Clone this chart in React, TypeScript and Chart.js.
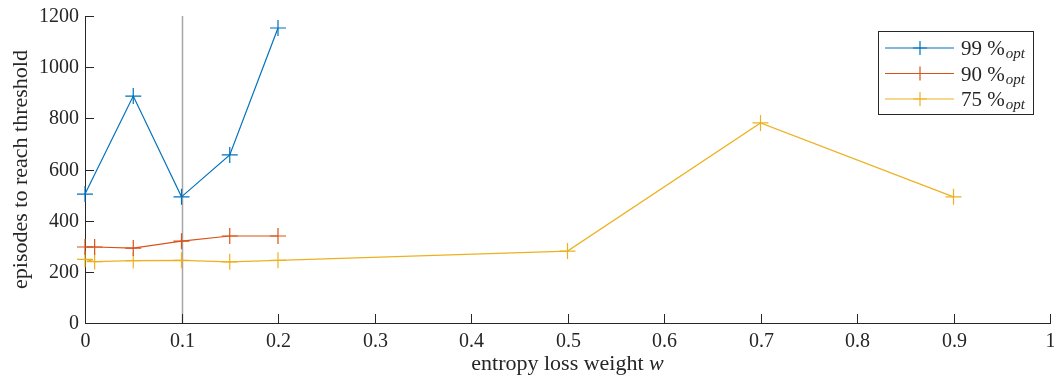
import React, { useEffect, useRef } from "react";
import { Chart, registerables } from "chart.js";

Chart.register(...registerables);

const xTicks = [0, 0.1, 0.2, 0.3, 0.4, 0.5, 0.6, 0.7, 0.8, 0.9, 1];
const yTicks = [0, 200, 400, 600, 800, 1000, 1200];

const x99 = [0, 0.05, 0.1, 0.15, 0.2];
const y99 = [504, 887, 493, 657, 1153];

const x90 = [0, 0.01, 0.05, 0.1, 0.15, 0.2];
const y90 = [297, 297, 293, 320, 340, 340];

const x75 = [0, 0.01, 0.05, 0.1, 0.15, 0.2, 0.5, 0.7, 0.9];
const y75 = [249, 240, 244, 245, 239, 245, 281, 782, 493];

const labels = ["99", "90", "75"];
const colors = ["#0072BD", "#D95319", "#EDB120"];
const markerLine = 0.1;
const xTitle = "entropy loss weight ";
const xTitleVar = "w";
const yTitle = "episodes to reach threshold";

const AXIS = "#262626";
const FONT = "'Liberation Serif', 'DejaVu Serif', serif";

const pts = (xs: number[], ys: number[]) => xs.map((x, i) => ({ x, y: ys[i] }));

const decorPlugin = {
  id: "decor",
  beforeDatasetsDraw(chart: any) {
    const { ctx, chartArea, scales } = chart;
    const xs = scales.x;
    ctx.save();
    ctx.strokeStyle = "#A6A6A6";
    ctx.lineWidth = 1.5;
    const px = Math.round(xs.getPixelForValue(markerLine)) + 0.5;
    ctx.beginPath();
    ctx.moveTo(px, chartArea.top);
    ctx.lineTo(px, chartArea.bottom);
    ctx.stroke();
    ctx.restore();
  },
  afterDraw(chart: any) {
    const { ctx, chartArea, scales } = chart;
    const xs = scales.x;
    const ys = scales.y;
    ctx.save();
    ctx.strokeStyle = AXIS;
    ctx.lineWidth = 1;
    const tl = 9;
    ctx.fillStyle = AXIS;
    ctx.font = `20px ${FONT}`;
    xTicks.forEach((v) => {
      const p = Math.round(xs.getPixelForValue(v)) + 0.5;
      ctx.beginPath();
      ctx.moveTo(p, chartArea.bottom);
      ctx.lineTo(p, chartArea.bottom - tl);
      ctx.stroke();
      ctx.textAlign = "center";
      ctx.textBaseline = "alphabetic";
      ctx.fillText(String(v), p, 347);
    });
    yTicks.forEach((v) => {
      const p = Math.round(ys.getPixelForValue(v)) + 0.5;
      ctx.beginPath();
      ctx.moveTo(chartArea.left, p);
      ctx.lineTo(chartArea.left + tl, p);
      ctx.stroke();
      ctx.textAlign = "right";
      ctx.textBaseline = "middle";
      ctx.fillText(String(v), 79, p);
    });
    ctx.textBaseline = "alphabetic";
    ctx.font = `22px ${FONT}`;
    const w1 = ctx.measureText(xTitle).width;
    ctx.font = `italic 22px ${FONT}`;
    const w2 = ctx.measureText(xTitleVar).width;
    const cx = (chartArea.left + chartArea.right) / 2;
    const sx = cx - (w1 + w2) / 2;
    ctx.font = `22px ${FONT}`;
    ctx.textAlign = "left";
    ctx.fillText(xTitle, sx, 370);
    ctx.font = `italic 22px ${FONT}`;
    ctx.fillText(xTitleVar, sx + w1, 370);

    ctx.save();
    ctx.translate(27, (chartArea.top + chartArea.bottom) / 2);
    ctx.rotate(-Math.PI / 2);
    ctx.font = `22px ${FONT}`;
    ctx.textAlign = "center";
    ctx.fillText(yTitle, 0, 0);
    ctx.restore();

    const bx = 878.5, by = 31.5, bw = 155, bh = 83;
    ctx.fillStyle = "#FFFFFF";
    ctx.fillRect(bx, by, bw, bh);
    ctx.strokeStyle = AXIS;
    ctx.lineWidth = 1;
    ctx.strokeRect(bx, by, bw, bh);
    const rows = [48, 73.5, 99];
    labels.forEach((lab, i) => {
      const y = rows[i];
      ctx.strokeStyle = colors[i];
      ctx.lineWidth = 1.2;
      ctx.beginPath();
      ctx.moveTo(885, y);
      ctx.lineTo(954, y);
      ctx.stroke();
      ctx.beginPath();
      ctx.moveTo(920, y - 7);
      ctx.lineTo(920, y + 7);
      ctx.moveTo(913, y);
      ctx.lineTo(927, y);
      ctx.stroke();
      ctx.fillStyle = AXIS;
      ctx.textAlign = "left";
      ctx.textBaseline = "alphabetic";
      ctx.font = `21px ${FONT}`;
      const main = lab + " %";
      ctx.fillText(main, 961, y + 7);
      const mw = ctx.measureText(main).width;
      ctx.font = `italic 15px ${FONT}`;
      ctx.fillText("opt", 961 + mw + 1, y + 10);
    });
    ctx.restore();
  },
};

export default function App() {
  const ref = useRef<HTMLCanvasElement>(null);
  useEffect(() => {
    if (!ref.current) return;
    const ds = [pts(x99, y99), pts(x90, y90), pts(x75, y75)].map((data, i) => ({
      label: labels[i],
      data,
      borderColor: colors[i],
      backgroundColor: colors[i],
      borderWidth: 1.2,
      pointStyle: "cross" as const,
      pointRadius: 8,
      pointHoverRadius: 8,
      pointBorderWidth: 1.2,
      tension: 0,
      showLine: true,
      clip: false as any,
    }));
    const chart = new Chart(ref.current, {
      type: "scatter",
      data: { datasets: ds },
      options: {
        animation: false,
        responsive: false,
        devicePixelRatio: 1,
        layout: { autoPadding: false, padding: { left: 0, top: 16, right: 4, bottom: 0 } },
        plugins: { legend: { display: false }, tooltip: { enabled: false } },
        scales: {
          x: {
            type: "linear",
            min: 0,
            max: 1,
            afterFit: (s: any) => {
              s.height = 58;
            },
            ticks: { display: false },
            grid: { drawOnChartArea: false, drawTicks: false },
            border: { display: true, color: AXIS, width: 1 },
          },
          y: {
            type: "linear",
            min: 0,
            max: 1200,
            afterFit: (s: any) => {
              s.width = 85;
            },
            ticks: { display: false },
            grid: { drawOnChartArea: false, drawTicks: false },
            border: { display: true, color: AXIS, width: 1 },
          },
        },
      },
      plugins: [decorPlugin],
    });
    return () => chart.destroy();
  }, []);
  return (
    <div style={{ position: "fixed", left: 0, top: 0, width: 1054, height: 381, background: "#fff" }}>
      <canvas ref={ref} width={1054} height={381} style={{ display: "block" }} />
    </div>
  );
}
